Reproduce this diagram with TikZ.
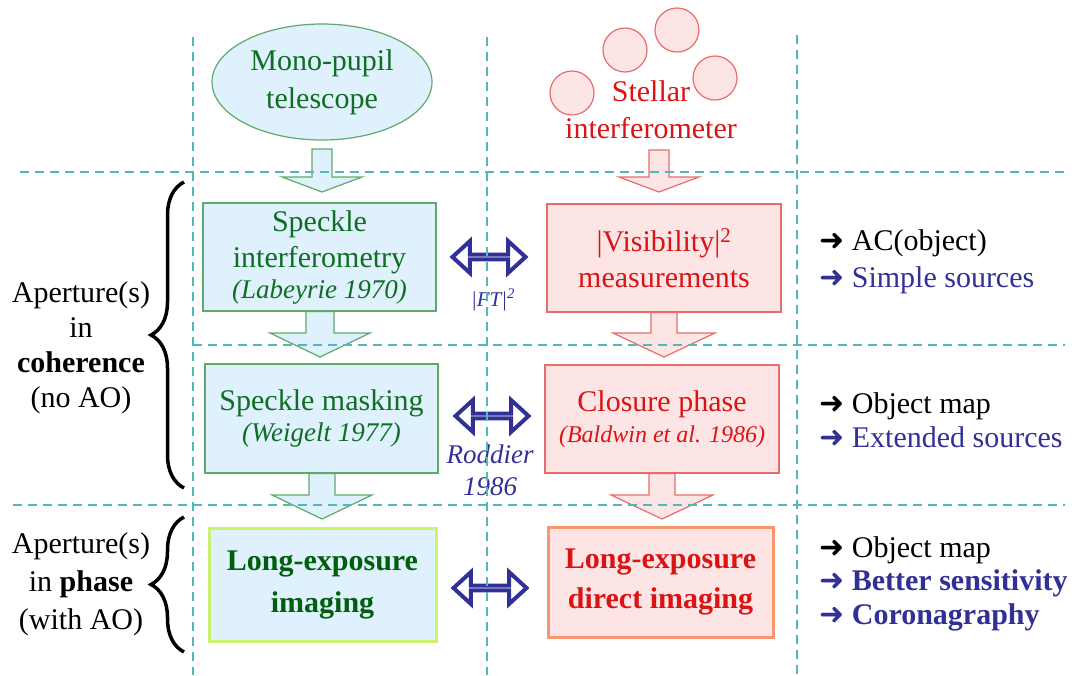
\documentclass[tikz,border=0pt]{standalone}
\usepackage{fontspec}
\setmainfont{Liberation Serif}
\newfontfamily\arrowfont{DejaVu Sans}
\usetikzlibrary{positioning, calc, shapes.geometric, shapes.arrows, decorations.pathreplacing}

\definecolor{gridcyan}{RGB}{80,185,185}
\definecolor{paleblue}{RGB}{222,241,252}
\definecolor{palepink}{RGB}{253,229,229}
\definecolor{boxgreen}{RGB}{95,170,105}
\definecolor{boxred}{RGB}{232,108,108}
\definecolor{txtgreen}{RGB}{15,110,35}
\definecolor{txtred}{RGB}{218,20,20}
\definecolor{deepgreen}{RGB}{0,95,10}
\definecolor{navy}{RGB}{48,48,150}
\definecolor{limeline}{RGB}{205,240,110}
\definecolor{orangeline}{RGB}{250,150,110}

% fat block arrow pointing down: style, start, tip, stem half width, head half width, head length
\newcommand{\blockdown}[6]{%
    \filldraw[#1] ($(#2 -| #3)+(-#4,0)$) -- ($(#3)+(-#4,-#6)$) -- ($(#3)+(-#5,-#6)$) -- (#3)
        -- ($(#3)+(#5,-#6)$) -- ($(#3)+(#4,-#6)$) -- ($(#2 -| #3)+(#4,0)$) -- cycle;}
\newcommand{\goes}{{\arrowfont\bfseries\symbol{"279C}}\ }

\begin{document}
\begin{tikzpicture}[x=1pt, y=-1pt,
        every node/.style={font=\fontsize{30}{36}\selectfont},
        grid_line/.style={gridcyan, line width=1.5pt, dash pattern=on 9pt off 6pt},
        green_box/.style={rectangle, draw=boxgreen, fill=paleblue, line width=1.2pt, text=txtgreen, align=center, inner sep=0pt},
        red_box/.style={rectangle, draw=boxred, fill=palepink, line width=1.2pt, text=txtred, align=center, inner sep=0pt},
        green_arrow/.style={draw=boxgreen, fill=paleblue, line width=1.2pt},
        red_arrow/.style={draw=boxred, fill=palepink, line width=1.2pt},
        star_disc/.style={circle, draw=boxred, fill=palepink, line width=1.2pt, minimum size=44pt, inner sep=0pt},
        swap_arrow/.style={double arrow, draw=navy, fill=white, line width=4pt, minimum height=73pt, minimum width=32pt,
                           double arrow head extend=11.5pt, double arrow tip angle=85, inner sep=0pt},
        side_brace/.style={decorate, decoration={brace, amplitude=33pt}, line width=3.5pt},
        note/.style={anchor=west, align=left, inner sep=0pt}
        ]
            \useasboundingbox (0,0) rectangle (1078,675);

            % sources
            \node[ellipse, draw=boxgreen, fill=paleblue, line width=1.2pt, minimum width=220pt, minimum height=116pt,
                  text=txtgreen, align=center, font=\fontsize{30}{38}\selectfont]  (tel)  at (322,82)  {Mono-pupil\\telescope};
            \node[star_disc]   (star_1)  at (572,93)  {};
            \node[star_disc]   (star_2)  at (625,50)  {};
            \node[star_disc]   (star_3)  at (677,30)  {};
            \node[star_disc]   (star_4)  at (715,78)  {};
            \node[text=txtred, align=center, font=\fontsize{30}{37}\selectfont]  (stel)  at (651,110)  {Stellar\\interferometer};

            % boxes
            \node[green_box, minimum width=233pt, minimum height=108pt]  (box_spi)  at (319.5,257)
                {Speckle\\interferometry\\[-5pt]{\fontsize{27}{30}\selectfont\itshape (Labeyrie 1970)}};
            \node[red_box, minimum width=234pt, minimum height=108pt]    (box_vis)  at (664,258)
                {|Visibility|\textsuperscript{2}\\measurements};
            \node[green_box, minimum width=233pt, minimum height=109pt]  (box_spm)  at (321.5,418.5)
                {Speckle masking\\[-5pt]{\fontsize{27}{30}\selectfont\itshape (Weigelt 1977)}};
            \node[red_box, minimum width=234pt, minimum height=108pt]    (box_clo)  at (662,419)
                {Closure phase\\[-5pt]{\fontsize{24}{28}\selectfont\itshape (Baldwin et al. 1986)}};
            \node[green_box, draw=limeline, line width=3pt, text=deepgreen, font=\fontsize{30}{42}\selectfont\bfseries,
                  minimum width=227pt, minimum height=113pt]  (box_lei)  at (322.5,584.5)  {Long-exposure\\imaging};
            \node[red_box, draw=orangeline, line width=3pt, font=\fontsize{30}{40}\selectfont\bfseries,
                  minimum width=225pt, minimum height=110pt]  (box_led)  at (660.5,582)  {Long-exposure\\direct imaging};

            % block arrows
            \coordinate (tel_out)  at (322,149);
            \coordinate (tip_1)    at (322,192);
            \coordinate (tip_2)    at (320,357);
            \coordinate (tip_3)    at (322,519);
            \coordinate (stel_out) at (659,150);
            \coordinate (tip_4)    at (659,192);
            \coordinate (tip_5)    at (664,357);
            \coordinate (tip_6)    at (662,519);
            \blockdown{green_arrow}{tel_out}{tip_1}{10}{40}{15}
            \blockdown{green_arrow}{box_spi.south}{tip_2}{14}{50}{24}
            \blockdown{green_arrow}{box_spm.south}{tip_3}{13}{50}{24}
            \blockdown{red_arrow}{stel_out}{tip_4}{10}{40}{15}
            \blockdown{red_arrow}{box_vis.south}{tip_5}{13}{51}{24}
            \blockdown{red_arrow}{box_clo.south}{tip_6}{13}{51}{24}

            % equivalences
            \node[swap_arrow]  (swap_1)  at (489,257)  {};
            \node[swap_arrow]  (swap_2)  at (492,416)  {};
            \node[swap_arrow]  (swap_3)  at (490,588)  {};
            \node[text=navy, font=\fontsize{21}{24}\selectfont\itshape]  (lbl_ft)  at (493,300)  {|FT|\textsuperscript{2}};
            \node[text=navy, align=center, font=\fontsize{27}{32}\selectfont\itshape]  (lbl_rod)  at (490,470)  {Roddier\\1986};

            % grid
            \draw[grid_line] (193,37) -- (193,675);
            \draw[grid_line] (487,37) -- (487,675);
            \draw[grid_line] (797,35) -- (797,675);
            \draw[grid_line] (20,172) -- (1065,172);
            \draw[grid_line] (193,345) -- (1065,345);
            \draw[grid_line] (13,505) -- (1065,505);

            % regimes
            \node[align=center, font=\fontsize{30}{35}\selectfont]  (lab_coh)  at (81,348)
                {Aperture(s)\\in\\\textbf{coherence}\\(no AO)};
            \node[align=center, font=\fontsize{30}{38}\selectfont]  (lab_pha)  at (81,584)
                {Aperture(s)\\in \textbf{phase}\\(with AO)};
            \draw[side_brace] (184,488) -- (184,182);
            \draw[side_brace] (184,652) -- (184,517);

            % outcomes
            \node[note, font=\fontsize{30}{37}\selectfont]    (note_1)  at (819,261.5)
                {\goes AC(object)\\\textcolor{navy}{\goes Simple sources}};
            \node[note, font=\fontsize{30}{34}\selectfont]    (note_2)  at (819,420)
                {\goes Object map\\\textcolor{navy}{\goes Extended sources}};
            \node[note, font=\fontsize{30}{33.5}\selectfont]  (note_3)  at (819,583.5)
                {\goes Object map\\\textcolor{navy}{\goes\textbf{Better sensitivity}}\\\textcolor{navy}{\goes\textbf{Coronagraphy}}};
        \end{tikzpicture}
\end{document}
